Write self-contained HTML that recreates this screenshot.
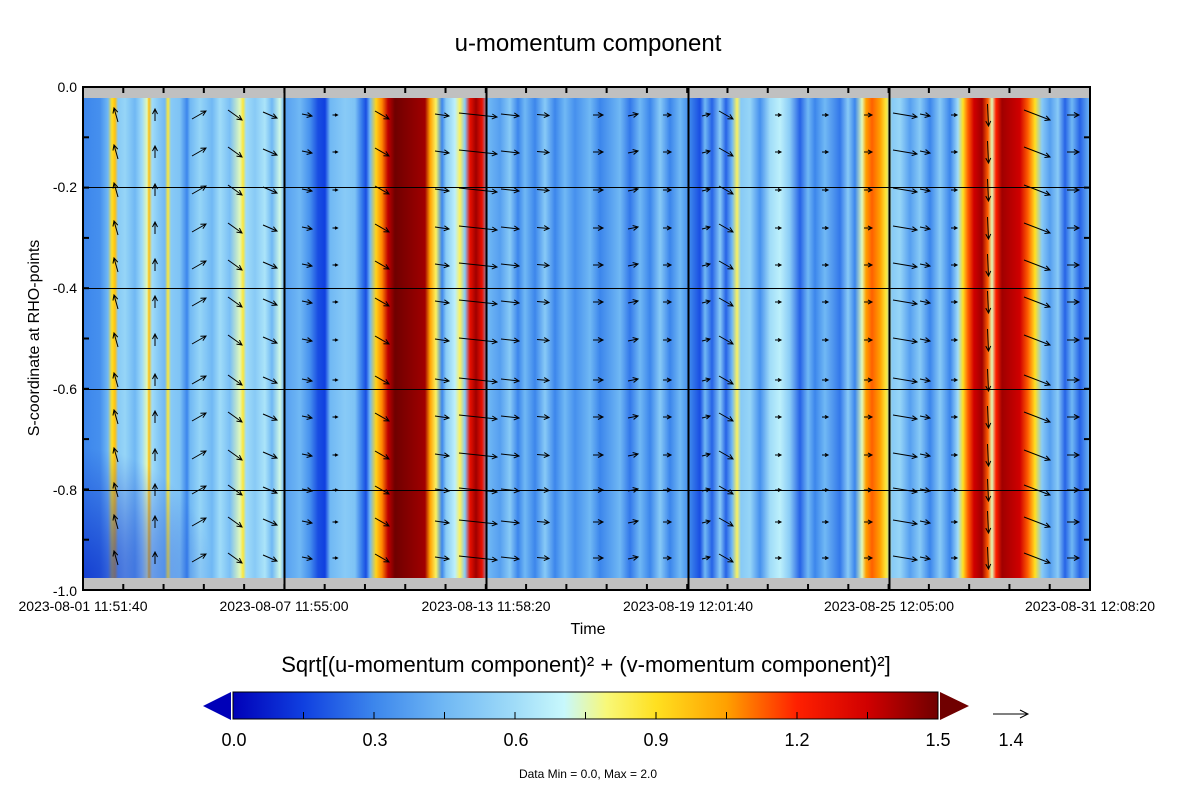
<!DOCTYPE html>
<html><head><meta charset="utf-8"><style>
body{margin:0;background:#fff;width:1197px;height:789px;overflow:hidden;font-family:"Liberation Sans",sans-serif}
</style></head><body>
<svg id="s" width="1197" height="789" xmlns="http://www.w3.org/2000/svg" font-family="Liberation Sans, sans-serif">
<defs>
<linearGradient id="cb" x1="0" x2="1" y1="0" y2="0">
<stop offset="0" stop-color="#0000b8"/><stop offset="0.1" stop-color="#1040e0"/><stop offset="0.2" stop-color="#3c86ec"/><stop offset="0.3" stop-color="#70b8f4"/><stop offset="0.4" stop-color="#a0dcf8"/><stop offset="0.47" stop-color="#c8f8fc"/><stop offset="0.53" stop-color="#f8f878"/><stop offset="0.6" stop-color="#ffe020"/><stop offset="0.7" stop-color="#ffa000"/><stop offset="0.8" stop-color="#ff2000"/><stop offset="0.9" stop-color="#d00000"/><stop offset="1" stop-color="#700000"/>
</linearGradient>
<linearGradient id="hm" x1="83" x2="1090" y1="0" y2="0" gradientUnits="userSpaceOnUse"></linearGradient>
<radialGradient id="corner" cx="83" cy="578" r="130" gradientUnits="userSpaceOnUse"><stop offset="0" stop-color="#0828c8" stop-opacity="0.75"/><stop offset="1" stop-color="#0828c8" stop-opacity="0"/></radialGradient>
</defs>
<text x="588" y="51" font-size="24" text-anchor="middle">u-momentum component</text>
<rect x="83" y="87" width="1007" height="503" fill="#c0c0c0"/>
<rect x="83" y="98" width="1007" height="480" fill="url(#hm)"/>
<rect x="83" y="448" width="130" height="130" fill="url(#corner)"/>
<g id="arrows" stroke="#000" stroke-width="1" fill="none"></g>
<g stroke="#000" stroke-width="1">
<line x1="83" x2="1090" y1="187.5" y2="187.5"/><line x1="83" x2="1090" y1="288.5" y2="288.5"/><line x1="83" x2="1090" y1="389.5" y2="389.5"/><line x1="83" x2="1090" y1="490.5" y2="490.5"/>
<line x1="284.5" x2="284.5" y1="87" y2="590" stroke-width="2"/><line x1="486.5" x2="486.5" y1="87" y2="590" stroke-width="2"/><line x1="688.5" x2="688.5" y1="87" y2="590" stroke-width="2"/><line x1="889.5" x2="889.5" y1="87" y2="590" stroke-width="2"/>
</g>
<g id="ticks" stroke="#000" stroke-width="2"></g>
<rect x="83" y="87" width="1007" height="503" fill="none" stroke="#000" stroke-width="2"/>
<g font-size="14" text-anchor="end">
<text x="77" y="92">0.0</text><text x="77" y="192">-0.2</text><text x="77" y="293">-0.4</text><text x="77" y="394">-0.6</text><text x="77" y="495">-0.8</text><text x="77" y="596">-1.0</text>
</g>
<g font-size="14" text-anchor="middle">
<text x="83" y="611">2023-08-01 11:51:40</text><text x="284" y="611">2023-08-07 11:55:00</text><text x="486" y="611">2023-08-13 11:58:20</text><text x="688" y="611">2023-08-19 12:01:40</text><text x="889" y="611">2023-08-25 12:05:00</text><text x="1090" y="611">2023-08-31 12:08:20</text>
</g>
<text x="588" y="634" font-size="16" text-anchor="middle">Time</text>
<text transform="translate(39,338) rotate(-90)" font-size="16" text-anchor="middle">S-coordinate at RHO-points</text>
<text x="586" y="672" font-size="22" text-anchor="middle">Sqrt[(u-momentum component)² + (v-momentum component)²]</text>
<polygon points="203,706 231,692 231,720" fill="#0000b8"/>
<polygon points="940,692 969,706 940,720" fill="#700000"/>
<rect x="233" y="692" width="705" height="27" fill="url(#cb)" stroke="#000" stroke-width="1"/>
<g id="cbt" stroke="#000" stroke-width="1"></g>
<g font-size="18" text-anchor="middle">
<text x="234" y="746">0.0</text><text x="375" y="746">0.3</text><text x="516" y="746">0.6</text><text x="656" y="746">0.9</text><text x="797" y="746">1.2</text><text x="938" y="746">1.5</text><text x="1011" y="746">1.4</text>
</g>
<line x1="993" y1="714" x2="1027" y2="714" stroke="#000"/><polyline points="1020,710 1028,714 1020,718" fill="none" stroke="#000"/>
<text x="588" y="778" font-size="12" text-anchor="middle">Data Min = 0.0, Max = 2.0</text>
</svg>
<script>
const ns="http://www.w3.org/2000/svg";
function cmap(v){const c=[[0,[0,0,184]],[.1,[16,64,224]],[.2,[60,134,236]],[.3,[112,184,244]],[.4,[160,220,248]],[.47,[200,248,252]],[.53,[248,248,120]],[.6,[255,224,32]],[.7,[255,160,0]],[.8,[255,32,0]],[.9,[208,0,0]],[1,[112,0,0]]];v=Math.max(0,Math.min(1,v));for(let i=1;i<c.length;i++){if(v<=c[i][0]){const t=(v-c[i-1][0])/(c[i][0]-c[i-1][0]);const a=c[i-1][1],b=c[i][1];return`rgb(${a.map((x,k)=>Math.round(x+(b[k]-x)*t)).join(",")})`;}}}
const S=[[83,.2],[100,.22],[108,.3],[112,.6],[115,.65],[118,.35],[125,.38],[135,.3],[142,.4],[147,.5],[149,.65],[152,.4],[158,.35],[165,.3],[168,.58],[171,.35],[180,.33],[187,.2],[190,.3],[200,.38],[212,.3],[220,.4],[230,.32],[240,.5],[243,.58],[246,.4],[255,.35],[265,.42],[272,.3],[280,.48],[285,.25],[300,.3],[310,.22],[318,.12],[325,.1],[330,.3],[345,.35],[355,.33],[362,.18],[366,.12],[370,.3],[376,.62],[382,.72],[388,.92],[395,1],[425,.95],[430,.7],[436,.55],[442,.2],[446,.35],[455,.45],[460,.55],[465,.35],[470,.85],[476,.95],[482,.85],[488,.3],[500,.25],[510,.35],[518,.2],[525,.3],[535,.2],[545,.35],[555,.2],[565,.3],[575,.22],[590,.3],[600,.2],[610,.25],[620,.3],[630,.18],[640,.3],[650,.2],[660,.35],[670,.2],[680,.3],[690,.2],[700,.12],[705,.3],[712,.15],[720,.35],[726,.15],[732,.3],[737,.55],[741,.35],[750,.38],[760,.22],[770,.4],[780,.45],[790,.35],[800,.15],[808,.3],[815,.2],[825,.3],[840,.18],[848,.35],[855,.2],[862,.5],[866,.7],[872,.75],[880,.7],[886,.58],[892,.35],[900,.38],[910,.25],[920,.35],[930,.2],[940,.35],[950,.2],[958,.4],[963,.6],[968,.75],[974,.9],[982,.95],[988,.75],[992,.5],[996,.8],[1002,.95],[1020,.9],[1028,.75],[1035,.6],[1042,.35],[1050,.25],[1058,.35],[1065,.15],[1072,.3],[1080,.15],[1090,.3]];
const g=document.getElementById("hm");
S.forEach(([x,v])=>{const s=document.createElementNS(ns,"stop");s.setAttribute("offset",((x-83)/1007).toFixed(4));s.setAttribute("stop-color",cmap(v));g.appendChild(s);});
const A=document.getElementById("arrows");
const rows=[115,152,190,228,265,302,340,380,417,455,490,522,558];
const cols=[[116,-4,-14],[155,0,-12],[199,14,-8],[235,14,10],[270,14,6],[307,10,2],[335,5,0],[382,14,8],[442,14,2],[478,38,4],[510,18,2],[543,12,1],[598,10,0],[633,10,-2],[667,8,0],[706,8,-2],[726,14,8],[778,6,0],[825,6,0],[868,8,0],[905,24,4],[925,10,2],[954,6,0],[988,1,22],[1037,26,10],[1073,12,0]];
function arrow(x,y,dx,dy){const p=document.createElementNS(ns,"path");const L=Math.hypot(dx,dy);if(L<1)return;const ux=dx/L,uy=dy/L,h=Math.min(5,L*.5);const ex=x+dx/2,ey=y+dy/2,sx=x-dx/2,sy=y-dy/2;p.setAttribute("d",`M${sx},${sy}L${ex},${ey}M${ex-h*ux+h*.5*uy},${ey-h*uy-h*.5*ux}L${ex},${ey}L${ex-h*ux-h*.5*uy},${ey-h*uy+h*.5*ux}`);A.appendChild(p);}
rows.forEach((y,ri)=>cols.forEach(([x,dx,dy])=>arrow(x,y,dx,dy)));
const T=document.getElementById("ticks");
function ln(x1,y1,x2,y2,p){const l=document.createElementNS(ns,"line");l.setAttribute("x1",x1);l.setAttribute("y1",y1);l.setAttribute("x2",x2);l.setAttribute("y2",y2);p.appendChild(l);}
for(let i=0;i<=25;i++){const x=83+i*1007/25;ln(x,87,x,93,T);ln(x,590,x,584,T);}
for(let i=0;i<=10;i++){const y=87+i*50.3;ln(83,y,89,y,T);ln(1090,y,1084,y,T);}
const C=document.getElementById("cbt");
for(let i=1;i<10;i++){const x=233+i*70.5;ln(x,719,x,712,C);}
</script>
</body></html>
